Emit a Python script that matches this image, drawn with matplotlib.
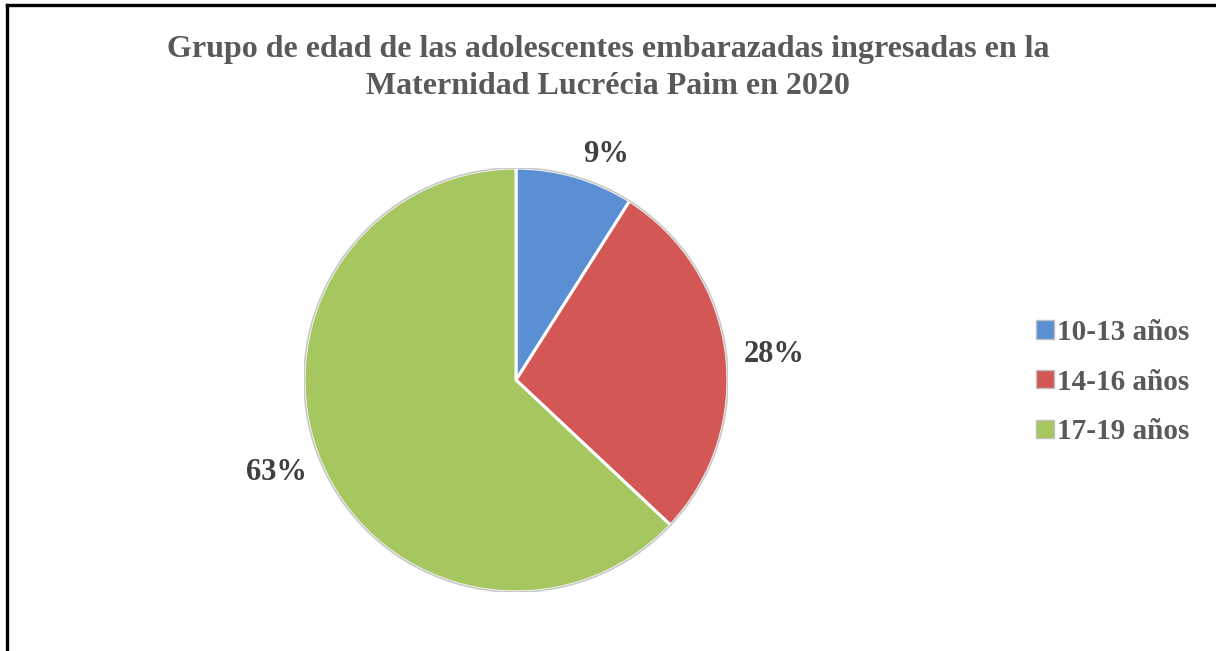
import matplotlib.pyplot as plt
import matplotlib.transforms as mtransforms
from matplotlib.lines import Line2D
from matplotlib.patches import Patch, Circle

grupos = ["10-13 años", "14-16 años", "17-19 años"]
porcentajes = [9, 28, 63]
colores = ["#5a8fd3", "#d25755", "#a6c660"]

plt.rcParams['font.family'] = ['Liberation Serif', 'DejaVu Serif']

fig = plt.figure(figsize=(12.16, 6.51), dpi=100)

# pie centred at (516, 380) px from top-left, radius 212 px
W, H = 1216, 651
cx, cy, r = 516, 380, 212
ax = fig.add_axes([(cx - r) / W, (H - cy - r) / H, 2 * r / W, 2 * r / H])

wedges, texts, autotexts = ax.pie(
    porcentajes, colors=colores, startangle=90, counterclock=False,
    autopct='%1.0f%%', pctdistance=1.19,
    wedgeprops=dict(edgecolor='white', linewidth=2.2),
    textprops=dict(fontsize=22, fontweight='bold', color='#404040'))
ax.add_patch(Circle((0, 0), 1.0, fill=False, edgecolor='#c8c8c8', linewidth=1.2))
ax.set_xlim(-1, 1)
ax.set_ylim(-1, 1)
ax.set_aspect('equal')

# small nudges (in pixels) for the percentage labels
nudges = [(20, -17), (8, -6), (-8, 8)]
for t, (dx, dy) in zip(autotexts, nudges):
    t.set_transform(mtransforms.offset_copy(ax.transData, fig=fig, x=dx, y=dy, units='dots'))

fig.text(0.5, 1 - 49 / H, "Grupo de edad de las adolescentes embarazadas ingresadas en la",
         ha='center', va='center', fontsize=23, fontweight='bold', color='#595959')
fig.text(0.5, 1 - 86 / H, "Maternidad Lucrécia Paim en 2020",
         ha='center', va='center', fontsize=23, fontweight='bold', color='#595959')

handles = [Patch(facecolor=c, edgecolor='#bfbfbf') for c in colores]
fig.legend(handles, grupos, loc='center left', bbox_to_anchor=(1010 / W, 1 - 382 / H),
           frameon=False, handlelength=0.6, handleheight=0.6,
           handletextpad=0.1, labelspacing=0.78, labelcolor='#595959',
           prop=dict(weight='bold', size=21))

# border on top and left side
fig.add_artist(Line2D([7 / W, 1], [1 - 5 / H, 1 - 5 / H], color='black', linewidth=2.4))
fig.add_artist(Line2D([7 / W, 7 / W], [0, 1 - 5 / H], color='black', linewidth=2.4))

fig.savefig("out.png", dpi=100)
